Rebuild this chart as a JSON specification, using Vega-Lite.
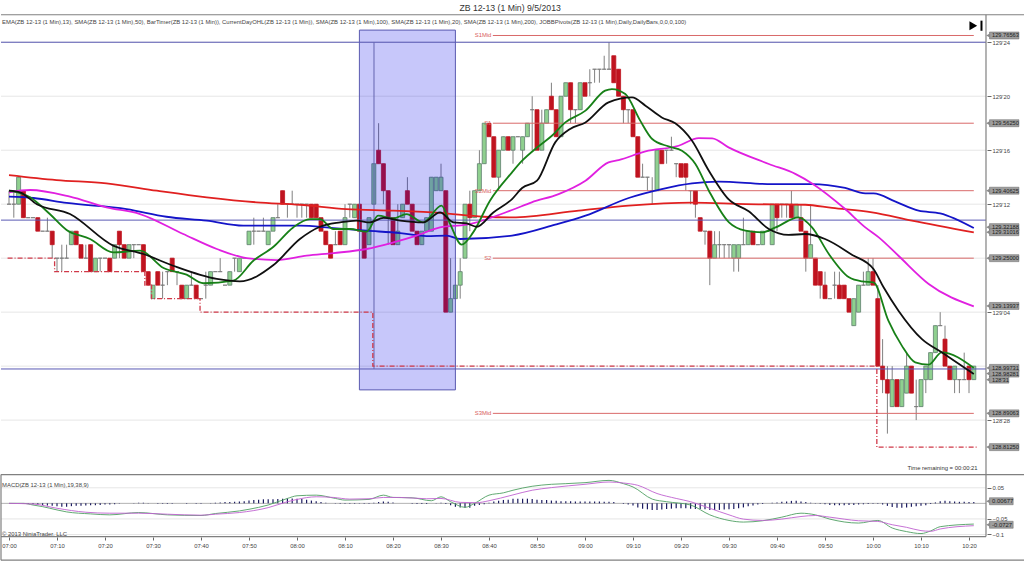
{"$schema":"https://vega.github.io/schema/vega-lite/v6.json","background":"white","padding":{"left":0,"right":0,"top":0,"bottom":0},"autosize":{"type":"none"},"width":1024,"height":562,"config":{"font":"Liberation Sans","view":{"stroke":null},"text":{"font":"Liberation Sans"}},
"datasets":{"bars":[
{"m":0,"o":12,"h":13,"l":12,"c":12,"d":"f","v":0},{"m":1,"o":12,"h":13,"l":11,"c":12,"d":"f","v":0},{"m":2,"o":12,"h":14,"l":12,"c":14,"d":"u","v":0},{"m":3,"o":13,"h":13,"l":11,"c":11,"d":"d","v":-0.001},{"m":4,"o":11,"h":11,"l":11,"c":11,"d":"f","v":-0.002},{"m":5,"o":11,"h":11,"l":11,"c":11,"d":"f","v":-0.003},{"m":6,"o":11,"h":11,"l":10,"c":10,"d":"d","v":-0.004},{"m":7,"o":10,"h":10,"l":10,"c":10,"d":"f","v":-0.005},{"m":8,"o":10,"h":11,"l":10,"c":10,"d":"f","v":-0.007},{"m":9,"o":10,"h":10,"l":8,"c":9,"d":"d","v":-0.008},
{"m":10,"o":8,"h":8,"l":7,"c":8,"d":"f","v":-0.009},{"m":11,"o":8,"h":9,"l":7,"c":8,"d":"f","v":-0.011},{"m":12,"o":8,"h":9,"l":8,"c":8,"d":"f","v":-0.011},{"m":13,"o":9,"h":10,"l":9,"c":10,"d":"u","v":-0.009},{"m":14,"o":10,"h":10,"l":9,"c":9,"d":"d","v":-0.008},{"m":15,"o":9,"h":9,"l":8,"c":8,"d":"d","v":-0.008},{"m":16,"o":8,"h":9,"l":8,"c":8,"d":"f","v":-0.007},{"m":17,"o":9,"h":9,"l":7,"c":7,"d":"d","v":-0.006},{"m":18,"o":7,"h":8,"l":7,"c":8,"d":"u","v":-0.006},{"m":19,"o":8,"h":8,"l":7,"c":8,"d":"f","v":-0.005},
{"m":20,"o":8,"h":8,"l":8,"c":8,"d":"f","v":-0.004},{"m":21,"o":8,"h":8,"l":7,"c":7,"d":"d","v":-0.004},{"m":22,"o":8,"h":9,"l":8,"c":9,"d":"u","v":-0.003},{"m":23,"o":10,"h":10,"l":8,"c":9,"d":"d","v":-0.001},{"m":24,"o":9,"h":9,"l":8,"c":8,"d":"d","v":0},{"m":25,"o":8,"h":9,"l":8,"c":9,"d":"u","v":0},{"m":26,"o":9,"h":9,"l":8,"c":9,"d":"f","v":0.001},{"m":27,"o":9,"h":9,"l":9,"c":9,"d":"f","v":0.002},{"m":28,"o":9,"h":9,"l":7,"c":7,"d":"d","v":0.002},{"m":29,"o":7,"h":7,"l":6,"c":6,"d":"d","v":0.001},
{"m":30,"o":5,"h":6,"l":5,"c":6,"d":"u","v":0},{"m":31,"o":7,"h":7,"l":6,"c":6,"d":"d","v":-0.001},{"m":32,"o":6,"h":7,"l":5,"c":6,"d":"f","v":-0.001},{"m":33,"o":7,"h":7,"l":6,"c":7,"d":"f","v":-0.002},{"m":34,"o":8,"h":8,"l":7,"c":7,"d":"d","v":-0.001},{"m":35,"o":7,"h":7,"l":6,"c":7,"d":"f","v":0},{"m":36,"o":6,"h":6,"l":5,"c":5,"d":"d","v":0},{"m":37,"o":5,"h":6,"l":5,"c":6,"d":"u","v":-0.001},{"m":38,"o":6,"h":7,"l":6,"c":6,"d":"f","v":0},{"m":39,"o":6,"h":6,"l":5,"c":5,"d":"d","v":-0.001},
{"m":40,"o":5,"h":5,"l":5,"c":5,"d":"f","v":-0.001},{"m":41,"o":6,"h":7,"l":5,"c":6,"d":"f","v":0},{"m":42,"o":6,"h":7,"l":6,"c":7,"d":"u","v":0.001},{"m":43,"o":7,"h":7,"l":7,"c":7,"d":"f","v":0.002},{"m":44,"o":7,"h":8,"l":7,"c":7,"d":"f","v":0.003},{"m":45,"o":6,"h":6,"l":6,"c":6,"d":"f","v":0.004},{"m":46,"o":6,"h":7,"l":6,"c":7,"d":"u","v":0.004},{"m":47,"o":8,"h":8,"l":7,"c":8,"d":"f","v":0.005},{"m":48,"o":7,"h":8,"l":7,"c":8,"d":"u","v":0.006},{"m":49,"o":8,"h":8,"l":8,"c":8,"d":"f","v":0.007},
{"m":50,"o":9,"h":10,"l":9,"c":10,"d":"u","v":0.009},{"m":51,"o":10,"h":11,"l":9,"c":10,"d":"f","v":0.011},{"m":52,"o":10,"h":10,"l":10,"c":10,"d":"f","v":0.012},{"m":53,"o":10,"h":11,"l":10,"c":10,"d":"f","v":0.013},{"m":54,"o":9,"h":10,"l":9,"c":10,"d":"u","v":0.013},{"m":55,"o":10,"h":11,"l":10,"c":11,"d":"u","v":0.013},{"m":56,"o":11,"h":12,"l":11,"c":11,"d":"f","v":0.014},{"m":57,"o":13,"h":13,"l":12,"c":12,"d":"d","v":0.015},{"m":58,"o":12,"h":12,"l":11,"c":12,"d":"f","v":0.016},{"m":59,"o":12,"h":13,"l":12,"c":12,"d":"f","v":0.016},
{"m":60,"o":12,"h":12,"l":11,"c":12,"d":"f","v":0.015},{"m":61,"o":12,"h":12,"l":11,"c":12,"d":"f","v":0.014},{"m":62,"o":12,"h":12,"l":11,"c":12,"d":"f","v":0.012},{"m":63,"o":12,"h":12,"l":11,"c":11,"d":"d","v":0.009},{"m":64,"o":12,"h":12,"l":11,"c":11,"d":"d","v":0.007},{"m":65,"o":11,"h":11,"l":10,"c":10,"d":"d","v":0.004},{"m":66,"o":10,"h":10,"l":9,"c":9,"d":"d","v":0.002},{"m":67,"o":9,"h":9,"l":8,"c":8,"d":"d","v":0},{"m":68,"o":9,"h":10,"l":9,"c":9,"d":"f","v":-0.001},{"m":69,"o":10,"h":10,"l":9,"c":9,"d":"d","v":-0.001},
{"m":70,"o":9,"h":12,"l":9,"c":11,"d":"u","v":-0.001},{"m":71,"o":12,"h":12,"l":11,"c":12,"d":"f","v":-0.001},{"m":72,"o":11,"h":12,"l":11,"c":12,"d":"u","v":-0.001},{"m":73,"o":12,"h":12,"l":10,"c":10,"d":"d","v":-0.001},{"m":74,"o":10,"h":10,"l":8,"c":8,"d":"d","v":-0.001},{"m":75,"o":9,"h":11,"l":9,"c":11,"d":"u","v":-0.001},{"m":76,"o":12,"h":15,"l":12,"c":15,"d":"u","v":0.002},{"m":77,"o":16,"h":18,"l":15,"c":15,"d":"d","v":0.004},{"m":78,"o":15,"h":15,"l":12,"c":13,"d":"d","v":0.006},{"m":79,"o":13,"h":13,"l":9,"c":11,"d":"d","v":0.005},
{"m":80,"o":11,"h":11,"l":9,"c":9,"d":"d","v":0.003},{"m":81,"o":9,"h":12,"l":9,"c":10,"d":"u","v":0},{"m":82,"o":11,"h":12,"l":11,"c":12,"d":"u","v":0},{"m":83,"o":13,"h":14,"l":12,"c":12,"d":"d","v":0},{"m":84,"o":12,"h":12,"l":10,"c":10,"d":"d","v":-0.001},{"m":85,"o":10,"h":10,"l":9,"c":9,"d":"d","v":-0.002},{"m":86,"o":9,"h":10,"l":9,"c":10,"d":"u","v":-0.002},{"m":87,"o":10,"h":11,"l":10,"c":11,"d":"u","v":-0.002},{"m":88,"o":10,"h":14,"l":10,"c":14,"d":"u","v":0},{"m":89,"o":13,"h":14,"l":13,"c":14,"d":"u","v":0.001},
{"m":90,"o":13,"h":15,"l":13,"c":14,"d":"u","v":0.002},{"m":91,"o":13,"h":13,"l":4,"c":4,"d":"d","v":-0.002},{"m":92,"o":4,"h":8,"l":4,"c":5,"d":"u","v":-0.006},{"m":93,"o":5,"h":6,"l":5,"c":6,"d":"u","v":-0.011},{"m":94,"o":6,"h":8,"l":5,"c":7,"d":"u","v":-0.013},{"m":95,"o":8,"h":12,"l":8,"c":12,"d":"u","v":-0.014},{"m":96,"o":12,"h":13,"l":10,"c":11,"d":"d","v":-0.014},{"m":97,"o":11,"h":13,"l":11,"c":13,"d":"u","v":-0.008},{"m":98,"o":13,"h":16,"l":13,"c":15,"d":"u","v":-0.005},{"m":99,"o":15,"h":18,"l":15,"c":18,"d":"u","v":-0.003},
{"m":100,"o":18,"h":18,"l":17,"c":17,"d":"d","v":0.002},{"m":101,"o":17,"h":17,"l":14,"c":14,"d":"d","v":0.006},{"m":102,"o":14,"h":16,"l":13,"c":16,"d":"u","v":0.008},{"m":103,"o":16,"h":17,"l":16,"c":17,"d":"u","v":0.011},{"m":104,"o":17,"h":17,"l":16,"c":16,"d":"d","v":0.012},{"m":105,"o":16,"h":17,"l":15,"c":17,"d":"u","v":0.015},{"m":106,"o":17,"h":17,"l":17,"c":17,"d":"f","v":0.015},{"m":107,"o":16,"h":17,"l":15,"c":17,"d":"u","v":0.015},{"m":108,"o":17,"h":18,"l":17,"c":18,"d":"u","v":0.015},{"m":109,"o":19,"h":20,"l":16,"c":19,"d":"f","v":0.014},
{"m":110,"o":19,"h":19,"l":16,"c":16,"d":"d","v":0.012},{"m":111,"o":16,"h":19,"l":16,"c":18,"d":"u","v":0.011},{"m":112,"o":18,"h":19,"l":18,"c":19,"d":"u","v":0.011},{"m":113,"o":20,"h":21,"l":19,"c":19,"d":"d","v":0.009},{"m":114,"o":19,"h":19,"l":17,"c":17,"d":"d","v":0.008},{"m":115,"o":17,"h":20,"l":17,"c":20,"d":"u","v":0.007},{"m":116,"o":20,"h":21,"l":20,"c":21,"d":"u","v":0.007},{"m":117,"o":21,"h":21,"l":18,"c":19,"d":"d","v":0.007},{"m":118,"o":19,"h":19,"l":18,"c":19,"d":"f","v":0.006},{"m":119,"o":19,"h":21,"l":19,"c":21,"d":"u","v":0.006},
{"m":120,"o":21,"h":21,"l":20,"c":20,"d":"d","v":0.006},{"m":121,"o":21,"h":22,"l":20,"c":21,"d":"f","v":0.006},{"m":122,"o":22,"h":22,"l":21,"c":22,"d":"f","v":0.006},{"m":123,"o":22,"h":22,"l":21,"c":22,"d":"f","v":0.006},{"m":124,"o":22,"h":23,"l":22,"c":22,"d":"f","v":0.005},{"m":125,"o":22,"h":24,"l":22,"c":22,"d":"f","v":0.005},{"m":126,"o":23,"h":23,"l":21,"c":21,"d":"d","v":0.004},{"m":127,"o":22,"h":22,"l":20,"c":20,"d":"d","v":0},{"m":128,"o":20,"h":20,"l":18,"c":19,"d":"d","v":-0.002},{"m":129,"o":19,"h":19,"l":18,"c":19,"d":"f","v":-0.004},
{"m":130,"o":19,"h":19,"l":17,"c":17,"d":"d","v":-0.007},{"m":131,"o":17,"h":17,"l":14,"c":14,"d":"d","v":-0.013},{"m":132,"o":14,"h":15,"l":14,"c":14,"d":"f","v":-0.017},{"m":133,"o":14,"h":14,"l":13,"c":14,"d":"f","v":-0.019},{"m":134,"o":13,"h":14,"l":12,"c":13,"d":"f","v":-0.021},{"m":135,"o":13,"h":16,"l":13,"c":16,"d":"u","v":-0.021},{"m":136,"o":16,"h":16,"l":15,"c":15,"d":"d","v":-0.02},{"m":137,"o":16,"h":16,"l":15,"c":16,"d":"f","v":-0.018},{"m":138,"o":16,"h":17,"l":16,"c":16,"d":"f","v":-0.017},{"m":139,"o":15,"h":15,"l":14,"c":15,"d":"f","v":-0.016},
{"m":140,"o":15,"h":15,"l":14,"c":14,"d":"d","v":-0.016},{"m":141,"o":15,"h":15,"l":13,"c":14,"d":"d","v":-0.016},{"m":142,"o":13,"h":13,"l":12,"c":13,"d":"f","v":-0.017},{"m":143,"o":13,"h":13,"l":11,"c":12,"d":"d","v":-0.018},{"m":144,"o":11,"h":11,"l":10,"c":10,"d":"d","v":-0.018},{"m":145,"o":10,"h":10,"l":9,"c":10,"d":"f","v":-0.019},{"m":146,"o":10,"h":10,"l":6,"c":8,"d":"d","v":-0.021},{"m":147,"o":8,"h":10,"l":8,"c":9,"d":"u","v":-0.021},{"m":148,"o":9,"h":10,"l":8,"c":9,"d":"f","v":-0.021},{"m":149,"o":9,"h":9,"l":8,"c":9,"d":"f","v":-0.02},
{"m":150,"o":9,"h":9,"l":8,"c":9,"d":"f","v":-0.019},{"m":151,"o":8,"h":9,"l":7,"c":9,"d":"u","v":-0.018},{"m":152,"o":8,"h":9,"l":7,"c":9,"d":"u","v":-0.016},{"m":153,"o":9,"h":11,"l":9,"c":9,"d":"f","v":-0.013},{"m":154,"o":9,"h":10,"l":9,"c":10,"d":"u","v":-0.009},{"m":155,"o":10,"h":10,"l":9,"c":9,"d":"d","v":-0.007},{"m":156,"o":9,"h":9,"l":9,"c":9,"d":"f","v":-0.004},{"m":157,"o":9,"h":10,"l":9,"c":10,"d":"u","v":-0.002},{"m":158,"o":10,"h":10,"l":10,"c":10,"d":"f","v":0},{"m":159,"o":9,"h":12,"l":9,"c":12,"d":"u","v":0.002},
{"m":160,"o":12,"h":12,"l":10,"c":11,"d":"d","v":0.003},{"m":161,"o":12,"h":12,"l":11,"c":12,"d":"f","v":0.005},{"m":162,"o":12,"h":12,"l":11,"c":12,"d":"f","v":0.006},{"m":163,"o":12,"h":13,"l":11,"c":11,"d":"d","v":0.008},{"m":164,"o":11,"h":12,"l":11,"c":12,"d":"u","v":0.008},{"m":165,"o":11,"h":12,"l":10,"c":10,"d":"d","v":0.006},{"m":166,"o":10,"h":10,"l":7,"c":8,"d":"d","v":0.004},{"m":167,"o":8,"h":12,"l":8,"c":9,"d":"u","v":0.002},{"m":168,"o":8,"h":8,"l":6,"c":6,"d":"d","v":0.001},{"m":169,"o":7,"h":7,"l":5,"c":6,"d":"d","v":-0.001},
{"m":170,"o":6,"h":7,"l":5,"c":5,"d":"d","v":-0.003},{"m":171,"o":5,"h":5,"l":5,"c":5,"d":"f","v":-0.005},{"m":172,"o":6,"h":7,"l":5,"c":6,"d":"f","v":-0.006},{"m":173,"o":6,"h":7,"l":5,"c":5,"d":"d","v":-0.006},{"m":174,"o":6,"h":6,"l":5,"c":5,"d":"d","v":-0.006},{"m":175,"o":5,"h":5,"l":4,"c":4,"d":"d","v":-0.005},{"m":176,"o":3,"h":5,"l":3,"c":5,"d":"u","v":-0.005},{"m":177,"o":4,"h":6,"l":4,"c":6,"d":"u","v":-0.004},{"m":178,"o":6,"h":7,"l":6,"c":6,"d":"f","v":-0.003},{"m":179,"o":6,"h":8,"l":6,"c":7,"d":"u","v":-0.002},
{"m":180,"o":7,"h":8,"l":6,"c":6,"d":"d","v":-0.001},{"m":181,"o":5,"h":6,"l":0,"c":0,"d":"d","v":-0.001},{"m":182,"o":0,"h":2,"l":-2,"c":-1,"d":"d","v":-0.004},{"m":183,"o":-1,"h":0,"l":-5,"c":-2,"d":"d","v":-0.008},{"m":184,"o":-3,"h":0,"l":-3,"c":-1,"d":"u","v":-0.012},{"m":185,"o":-1,"h":-1,"l":-3,"c":-3,"d":"d","v":-0.014},{"m":186,"o":-3,"h":-1,"l":-3,"c":-1,"d":"u","v":-0.014},{"m":187,"o":-2,"h":1,"l":-2,"c":0,"d":"u","v":-0.013},{"m":188,"o":0,"h":0,"l":-2,"c":-2,"d":"d","v":-0.011},{"m":189,"o":-3,"h":-1,"l":-4,"c":-3,"d":"f","v":-0.009},
{"m":190,"o":-3,"h":-1,"l":-3,"c":-1,"d":"u","v":-0.008},{"m":191,"o":-1,"h":0,"l":-2,"c":0,"d":"u","v":-0.006},{"m":192,"o":-1,"h":1,"l":-1,"c":1,"d":"u","v":-0.002},{"m":193,"o":1,"h":3,"l":1,"c":3,"d":"u","v":0.003},{"m":194,"o":3,"h":4,"l":3,"c":3,"d":"f","v":0.007},{"m":195,"o":2,"h":3,"l":0,"c":0,"d":"d","v":0.008},{"m":196,"o":0,"h":0,"l":-1,"c":-1,"d":"d","v":0.007},{"m":197,"o":-1,"h":0,"l":-2,"c":0,"d":"u","v":0.006},{"m":198,"o":-1,"h":-1,"l":-2,"c":-1,"d":"f","v":0.005},{"m":199,"o":-1,"h":1,"l":-1,"c":-1,"d":"f","v":0.005},
{"m":200,"o":0,"h":0,"l":-2,"c":-1,"d":"d","v":0.004},{"m":201,"o":-1,"h":0,"l":-1,"c":0,"d":"u","v":0.004}
],
"grid":[{"m":0},{"m":10},{"m":20},{"m":30},{"m":40},{"m":50},{"m":60},{"m":70},{"m":80},{"m":90},{"m":100},{"m":110},{"m":120},{"m":130},{"m":140},{"m":150},{"m":160},{"m":170},{"m":180},{"m":190},{"m":200}],
"lines":[
{"s":"SMA200","m":0,"L":14.16},{"s":"SMA200","m":9.9,"L":13.79},{"s":"SMA200","m":20.3,"L":13.54},{"s":"SMA200","m":30.8,"L":13},{"s":"SMA200","m":41.2,"L":12.51},{"s":"SMA200","m":51.6,"L":12.14},{"s":"SMA200","m":60.6,"L":11.96},{"s":"SMA200","m":70.3,"L":11.64},{"s":"SMA200","m":80.1,"L":11.52},{"s":"SMA200","m":89.8,"L":11.35},{"s":"SMA200","m":98.8,"L":11.07},{"s":"SMA200","m":104.8,"L":11.02},{"s":"SMA200","m":118.7,"L":11.52},{"s":"SMA200","m":129.1,"L":11.89},{"s":"SMA200","m":142.3,"L":12.11},{"s":"SMA200","m":153.4,"L":12.01},{"s":"SMA200","m":165.9,"L":11.96},{"s":"SMA200","m":171.5,"L":11.72},{"s":"SMA200","m":179.8,"L":11.39},{"s":"SMA200","m":188.1,"L":10.78},{"s":"SMA200","m":201,"L":9.91},
{"s":"SMA100","m":0,"L":12.56},{"s":"SMA100","m":5.1,"L":12.46},{"s":"SMA100","m":12,"L":12.09},{"s":"SMA100","m":24.5,"L":11.64},{"s":"SMA100","m":32.8,"L":11.07},{"s":"SMA100","m":41.2,"L":10.78},{"s":"SMA100","m":48.8,"L":10.41},{"s":"SMA100","m":60.6,"L":10.41},{"s":"SMA100","m":67.6,"L":10.23},{"s":"SMA100","m":74.5,"L":10.04},{"s":"SMA100","m":81.5,"L":9.86},{"s":"SMA100","m":87,"L":9.64},{"s":"SMA100","m":91.2,"L":9.67},{"s":"SMA100","m":94,"L":9.42},{"s":"SMA100","m":104.8,"L":9.67},{"s":"SMA100","m":113.8,"L":10.48},{"s":"SMA100","m":120.1,"L":11.15},{"s":"SMA100","m":129.1,"L":12.46},{"s":"SMA100","m":136,"L":13.12},{"s":"SMA100","m":142.3,"L":13.54},{"s":"SMA100","m":147.8,"L":13.67},{"s":"SMA100","m":158.9,"L":13.49},{"s":"SMA100","m":167.3,"L":13.49},{"s":"SMA100","m":174.2,"L":13.2},{"s":"SMA100","m":178.4,"L":12.8},{"s":"SMA100","m":180.1,"L":12.8},{"s":"SMA100","m":184.7,"L":12.19},{"s":"SMA100","m":189.5,"L":11.52},{"s":"SMA100","m":194,"L":11.32},{"s":"SMA100","m":201,"L":10.23},
{"s":"SMA50","m":0,"L":12.88},{"s":"SMA50","m":4.4,"L":13.05},{"s":"SMA50","m":12.7,"L":12.56},{"s":"SMA50","m":20.3,"L":11.77},{"s":"SMA50","m":27.3,"L":11.27},{"s":"SMA50","m":36.3,"L":9.79},{"s":"SMA50","m":43.3,"L":8.68},{"s":"SMA50","m":49.5,"L":8.01},{"s":"SMA50","m":55.8,"L":7.86},{"s":"SMA50","m":62,"L":8.19},{"s":"SMA50","m":67.6,"L":8.38},{"s":"SMA50","m":74.5,"L":8.68},{"s":"SMA50","m":80.1,"L":9.17},{"s":"SMA50","m":84.9,"L":9.67},{"s":"SMA50","m":89.8,"L":10.28},{"s":"SMA50","m":95.3,"L":10.48},{"s":"SMA50","m":104.8,"L":11.57},{"s":"SMA50","m":108.9,"L":12.14},{"s":"SMA50","m":114.5,"L":12.75},{"s":"SMA50","m":120.1,"L":13.74},{"s":"SMA50","m":124.9,"L":15.1},{"s":"SMA50","m":127,"L":15.27},{"s":"SMA50","m":132.6,"L":15.91},{"s":"SMA50","m":139.5,"L":16.33},{"s":"SMA50","m":143.7,"L":16.9},{"s":"SMA50","m":146.5,"L":16.88},{"s":"SMA50","m":149.9,"L":16.21},{"s":"SMA50","m":158.3,"L":14.98},{"s":"SMA50","m":163.9,"L":14.23},{"s":"SMA50","m":167.3,"L":13.54},{"s":"SMA50","m":174.2,"L":11.64},{"s":"SMA50","m":178.4,"L":10.28},{"s":"SMA50","m":181.2,"L":9.54},{"s":"SMA50","m":185.3,"L":8.18},{"s":"SMA50","m":191.6,"L":6.09},{"s":"SMA50","m":201,"L":4.43},
{"s":"EMA13","m":0,"L":13},{"s":"EMA13","m":4.4,"L":12.51},{"s":"EMA13","m":8.5,"L":11.27},{"s":"EMA13","m":12,"L":10.09},{"s":"EMA13","m":16.9,"L":9.42},{"s":"EMA13","m":21.7,"L":8.43},{"s":"EMA13","m":27.3,"L":8.56},{"s":"EMA13","m":32.2,"L":7.27},{"s":"EMA13","m":37,"L":6.78},{"s":"EMA13","m":40.5,"L":6.14},{"s":"EMA13","m":46.7,"L":6.33},{"s":"EMA13","m":50.9,"L":7.81},{"s":"EMA13","m":55.1,"L":8.85},{"s":"EMA13","m":59.2,"L":10.28},{"s":"EMA13","m":62.7,"L":10.9},{"s":"EMA13","m":64.8,"L":10.9},{"s":"EMA13","m":67.6,"L":10.16},{"s":"EMA13","m":71,"L":10.16},{"s":"EMA13","m":74.5,"L":9.96},{"s":"EMA13","m":76.9,"L":11.15},{"s":"EMA13","m":80.1,"L":10.95},{"s":"EMA13","m":82.8,"L":11.27},{"s":"EMA13","m":86.3,"L":10.65},{"s":"EMA13","m":90.1,"L":11.89},{"s":"EMA13","m":91.9,"L":10.53},{"s":"EMA13","m":94.3,"L":9},{"s":"EMA13","m":96.7,"L":9.91},{"s":"EMA13","m":100.2,"L":12.26},{"s":"EMA13","m":104.8,"L":14.36},{"s":"EMA13","m":106.9,"L":15.22},{"s":"EMA13","m":110,"L":16.2},{"s":"EMA13","m":113.1,"L":17.07},{"s":"EMA13","m":115.9,"L":18.06},{"s":"EMA13","m":120.1,"L":18.93},{"s":"EMA13","m":124.2,"L":20.41},{"s":"EMA13","m":125.6,"L":20.53},{"s":"EMA13","m":128.4,"L":20.16},{"s":"EMA13","m":131.5,"L":18.19},{"s":"EMA13","m":134,"L":16.83},{"s":"EMA13","m":137.4,"L":16.28},{"s":"EMA13","m":140.2,"L":15.96},{"s":"EMA13","m":143,"L":14.98},{"s":"EMA13","m":145.8,"L":13},{"s":"EMA13","m":150,"L":10.65},{"s":"EMA13","m":153.4,"L":10.04},{"s":"EMA13","m":156.9,"L":9.91},{"s":"EMA13","m":159.7,"L":10.28},{"s":"EMA13","m":164.5,"L":11.02},{"s":"EMA13","m":167.3,"L":10.28},{"s":"EMA13","m":170.8,"L":8.31},{"s":"EMA13","m":175,"L":6.58},{"s":"EMA13","m":177.7,"L":6.28},{"s":"EMA13","m":180.1,"L":6.21},{"s":"EMA13","m":183.2,"L":3.37},{"s":"EMA13","m":186,"L":1.52},{"s":"EMA13","m":188.8,"L":0.28},{"s":"EMA13","m":191.6,"L":0.11},{"s":"EMA13","m":194.3,"L":1.02},{"s":"EMA13","m":201,"L":-0.13},
{"s":"SMA20","m":0,"L":13},{"s":"SMA20","m":2.3,"L":12.88},{"s":"SMA20","m":5.8,"L":12},{"s":"SMA20","m":12.7,"L":11.27},{"s":"SMA20","m":21.7,"L":8.93},{"s":"SMA20","m":28,"L":8.31},{"s":"SMA20","m":34.2,"L":7.44},{"s":"SMA20","m":43.3,"L":6.46},{"s":"SMA20","m":48.1,"L":6.28},{"s":"SMA20","m":55.1,"L":7.49},{"s":"SMA20","m":60.6,"L":9.42},{"s":"SMA20","m":64.8,"L":10.33},{"s":"SMA20","m":69,"L":10.65},{"s":"SMA20","m":72.4,"L":10.78},{"s":"SMA20","m":75.2,"L":10.65},{"s":"SMA20","m":78,"L":10.98},{"s":"SMA20","m":81.5,"L":10.78},{"s":"SMA20","m":86.3,"L":10.65},{"s":"SMA20","m":89.8,"L":11.39},{"s":"SMA20","m":92.6,"L":10.65},{"s":"SMA20","m":95.3,"L":10.58},{"s":"SMA20","m":97.4,"L":10.33},{"s":"SMA20","m":100.9,"L":11.39},{"s":"SMA20","m":104.8,"L":12.38},{"s":"SMA20","m":106.9,"L":13.2},{"s":"SMA20","m":110,"L":13.74},{"s":"SMA20","m":113.8,"L":16.58},{"s":"SMA20","m":116.9,"L":17.57},{"s":"SMA20","m":120.1,"L":18.06},{"s":"SMA20","m":124.9,"L":19.54},{"s":"SMA20","m":129.8,"L":19.91},{"s":"SMA20","m":132.6,"L":19.3},{"s":"SMA20","m":136,"L":18.43},{"s":"SMA20","m":138.8,"L":17.99},{"s":"SMA20","m":142.3,"L":16.7},{"s":"SMA20","m":145.8,"L":14.48},{"s":"SMA20","m":150,"L":12.33},{"s":"SMA20","m":154.1,"L":11.47},{"s":"SMA20","m":158.3,"L":10.16},{"s":"SMA20","m":162.4,"L":9.72},{"s":"SMA20","m":165.9,"L":9.79},{"s":"SMA20","m":170,"L":9.42},{"s":"SMA20","m":175.6,"L":8.26},{"s":"SMA20","m":180.1,"L":7.2},{"s":"SMA20","m":182.2,"L":5.84},{"s":"SMA20","m":185.3,"L":4.11},{"s":"SMA20","m":190.2,"L":2},{"s":"SMA20","m":194.3,"L":1.02},{"s":"SMA20","m":201,"L":-0.58}
],
"macd":[
{"s":"MACD","m":0,"v":0},{"s":"MACD","m":3,"v":0},{"s":"MACD","m":5,"v":-0.0053},{"s":"MACD","m":7,"v":-0.0105},{"s":"MACD","m":10,"v":-0.0211},{"s":"MACD","m":12,"v":-0.0274},{"s":"MACD","m":17,"v":-0.0338},{"s":"MACD","m":21,"v":-0.0369},{"s":"MACD","m":27,"v":-0.0295},{"s":"MACD","m":33,"v":-0.0369},{"s":"MACD","m":40,"v":-0.039},{"s":"MACD","m":43,"v":-0.0327},{"s":"MACD","m":48,"v":-0.0243},{"s":"MACD","m":50,"v":-0.019},{"s":"MACD","m":54,"v":-0.0053},{"s":"MACD","m":58,"v":0.0158},{"s":"MACD","m":60,"v":0.0243},{"s":"MACD","m":64,"v":0.0264},{"s":"MACD","m":68,"v":0.0158},{"s":"MACD","m":70,"v":0.0105},{"s":"MACD","m":75,"v":0.0127},{"s":"MACD","m":78,"v":0.0264},{"s":"MACD","m":80,"v":0.019},{"s":"MACD","m":84,"v":0.0179},{"s":"MACD","m":88,"v":0.0084},{"s":"MACD","m":90,"v":0.0211},{"s":"MACD","m":92,"v":0.0053},{"s":"MACD","m":95,"v":-0.0127},{"s":"MACD","m":97,"v":0},{"s":"MACD","m":100,"v":0.0264},{"s":"MACD","m":103,"v":0.0338},{"s":"MACD","m":105,"v":0.0422},{"s":"MACD","m":109,"v":0.0549},{"s":"MACD","m":113,"v":0.0612},{"s":"MACD","m":116,"v":0.0633},{"s":"MACD","m":120,"v":0.0665},{"s":"MACD","m":125,"v":0.0738},{"s":"MACD","m":128,"v":0.0633},{"s":"MACD","m":130,"v":0.0527},{"s":"MACD","m":134,"v":0.0137},{"s":"MACD","m":137,"v":0.0053},{"s":"MACD","m":142,"v":-0.0053},{"s":"MACD","m":146,"v":-0.0369},{"s":"MACD","m":150,"v":-0.0549},{"s":"MACD","m":153,"v":-0.0601},{"s":"MACD","m":157,"v":-0.0559},{"s":"MACD","m":161,"v":-0.0443},{"s":"MACD","m":165,"v":-0.0316},{"s":"MACD","m":168,"v":-0.0369},{"s":"MACD","m":171,"v":-0.0506},{"s":"MACD","m":177,"v":-0.0633},{"s":"MACD","m":181,"v":-0.0549},{"s":"MACD","m":184,"v":-0.0791},{"s":"MACD","m":187,"v":-0.0907},{"s":"MACD","m":190,"v":-0.097},{"s":"MACD","m":192,"v":-0.0886},{"s":"MACD","m":194,"v":-0.0749},{"s":"MACD","m":201,"v":-0.0665},
{"s":"Signal","m":0,"v":0},{"s":"Signal","m":5,"v":-0.0021},{"s":"Signal","m":10,"v":-0.0158},{"s":"Signal","m":16,"v":-0.0285},{"s":"Signal","m":21,"v":-0.0316},{"s":"Signal","m":27,"v":-0.0316},{"s":"Signal","m":33,"v":-0.0348},{"s":"Signal","m":40,"v":-0.038},{"s":"Signal","m":43,"v":-0.0348},{"s":"Signal","m":48,"v":-0.0295},{"s":"Signal","m":54,"v":-0.0137},{"s":"Signal","m":58,"v":0.0053},{"s":"Signal","m":60,"v":0.0127},{"s":"Signal","m":64,"v":0.0211},{"s":"Signal","m":67.6,"v":0.019},{"s":"Signal","m":71,"v":0.0137},{"s":"Signal","m":75,"v":0.0148},{"s":"Signal","m":78,"v":0.019},{"s":"Signal","m":81.5,"v":0.019},{"s":"Signal","m":87,"v":0.0148},{"s":"Signal","m":90,"v":0.0158},{"s":"Signal","m":94,"v":0.0032},{"s":"Signal","m":97.4,"v":0.0021},{"s":"Signal","m":100,"v":0.0084},{"s":"Signal","m":104.8,"v":0.0264},{"s":"Signal","m":109,"v":0.0422},{"s":"Signal","m":113,"v":0.0506},{"s":"Signal","m":120,"v":0.0612},{"s":"Signal","m":125,"v":0.0686},{"s":"Signal","m":128,"v":0.0654},{"s":"Signal","m":131,"v":0.058},{"s":"Signal","m":135,"v":0.0316},{"s":"Signal","m":139,"v":0.0158},{"s":"Signal","m":142,"v":0.0053},{"s":"Signal","m":146,"v":-0.0158},{"s":"Signal","m":150,"v":-0.0369},{"s":"Signal","m":153,"v":-0.0506},{"s":"Signal","m":157,"v":-0.0549},{"s":"Signal","m":161,"v":-0.0506},{"s":"Signal","m":165,"v":-0.0422},{"s":"Signal","m":168,"v":-0.039},{"s":"Signal","m":171,"v":-0.0443},{"s":"Signal","m":177,"v":-0.0559},{"s":"Signal","m":181,"v":-0.058},{"s":"Signal","m":184,"v":-0.0686},{"s":"Signal","m":187,"v":-0.077},{"s":"Signal","m":190,"v":-0.0876},{"s":"Signal","m":192,"v":-0.0897},{"s":"Signal","m":194,"v":-0.0823},{"s":"Signal","m":201,"v":-0.0717}
]},
"encoding":{"x":{"field":"m","type":"quantitative","scale":{"domain":[-1.875,211.458],"range":[-5,1029],"nice":false,"zero":false},"axis":{"orient":"bottom","offset":-25,"values":[0,10,20,30,40,50,60,70,80,90,100,110,120,130,140,150,160,170,180,190,200],"title":null,"domain":false,"grid":false,"tickSize":3,"tickColor":"#666666","labelFontSize":5.9,"labelColor":"#444444","labelPadding":2,"labelFlush":false,"labelOverlap":false,"labelFont":"Liberation Sans","labelExpr":"(floor(datum.value/60)+7<10?'0':'')+(floor(datum.value/60)+7)+':'+(datum.value%60<10?'0':'')+(datum.value%60)"}}},
"resolve":{"scale":{"y":"independent"},"axis":{"y":"independent"}},
"layer":[
{"encoding":{"y":{"field":"L","type":"quantitative","scale":{"domain":[-8.037,26.037],"range":[479.6,9.75],"nice":false,"zero":false},"axis":{"orient":"right","offset":-37,"values":[24,20,16,12,4,-4],"title":null,"domain":false,"grid":false,"tickSize":4,"tickColor":"#666666","labelFontSize":5.9,"labelColor":"#444444","labelPadding":1,"labelFont":"Liberation Sans","labelExpr":"datum.value>=0 ? \"129'\"+(datum.value<10?'0':'')+datum.value : \"128'\"+(32+datum.value)"}}},
"layer":[
{"data":{"name":"grid"},"mark":{"type":"rule","color":"#e6e6e6","strokeWidth":1},"encoding":{"y":{"datum":26.037,"type":"quantitative","axis":{"orient":"right","offset":-37,"values":[24,20,16,12,4,-4],"title":null,"domain":false,"grid":false,"tickSize":4,"tickColor":"#666666","labelFontSize":5.9,"labelColor":"#444444","labelPadding":1,"labelFont":"Liberation Sans","labelExpr":"datum.value>=0 ? \"129'\"+(datum.value<10?'0':'')+datum.value : \"128'\"+(32+datum.value)"}},"y2":{"datum":-8.037}}},
{"data":{"values":[{"m":-1.667,"m2":203.54,"L":24},{"m":-1.667,"m2":203.54,"L":20},{"m":-1.667,"m2":203.54,"L":16},{"m":-1.667,"m2":203.54,"L":12},{"m":-1.667,"m2":203.54,"L":8},{"m":-1.667,"m2":203.54,"L":4},{"m":-1.667,"m2":203.54,"L":0},{"m":-1.667,"m2":203.54,"L":-4}]},"mark":{"type":"rule","color":"#e6e6e6","strokeWidth":1},"encoding":{"x2":{"field":"m2"}}},
{"data":{"name":"bars"},"mark":{"type":"rule","color":"#808080","strokeWidth":1},"encoding":{"y":{"field":"h","type":"quantitative","axis":{"orient":"right","offset":-37,"values":[24,20,16,12,4,-4],"title":null,"domain":false,"grid":false,"tickSize":4,"tickColor":"#666666","labelFontSize":5.9,"labelColor":"#444444","labelPadding":1,"labelFont":"Liberation Sans","labelExpr":"datum.value>=0 ? \"129'\"+(datum.value<10?'0':'')+datum.value : \"128'\"+(32+datum.value)"}},"y2":{"field":"l"}}},
{"data":{"name":"bars"},"mark":{"type":"bar","size":4,"orient":"vertical","strokeWidth":0.8},"encoding":{"y":{"field":"o","type":"quantitative","axis":{"orient":"right","offset":-37,"values":[24,20,16,12,4,-4],"title":null,"domain":false,"grid":false,"tickSize":4,"tickColor":"#666666","labelFontSize":5.9,"labelColor":"#444444","labelPadding":1,"labelFont":"Liberation Sans","labelExpr":"datum.value>=0 ? \"129'\"+(datum.value<10?'0':'')+datum.value : \"128'\"+(32+datum.value)"}},"y2":{"field":"c"},"fill":{"field":"d","type":"nominal","scale":{"domain":["u","d","f"],"range":["#8fd08f","#c01420","#777777"]},"legend":null},"stroke":{"field":"d","type":"nominal","scale":{"domain":["u","d","f"],"range":["#5f7f6f","#c01420","#777777"]},"legend":null}}},
{"data":{"values":[{"m":73,"m2":93,"L":24.9,"L2":-1.76}]},"mark":{"type":"rect","fill":"#0000e8","fillOpacity":0.22,"stroke":"#5a5ab0","strokeWidth":1},"encoding":{"x2":{"field":"m2"},"y2":{"field":"L2"}}},
{"data":{"values":[{"m":-1.667,"m2":203.54,"L":24},{"m":-1.667,"m2":203.54,"L":10.82},{"m":-1.667,"m2":203.54,"L":-0.21}]},"mark":{"type":"rule","color":"#5a5ab4","strokeWidth":1},"encoding":{"x2":{"field":"m2"}}},
{"data":{"values":[{"m":76.04,"L":24,"L2":-0.21}]},"mark":{"type":"rule","color":"#6464b0","strokeWidth":1},"encoding":{"y2":{"field":"L2"}}},
{"data":{"values":[{"m":100.8,"m2":201,"L":24.5},{"m":100.8,"m2":201,"L":18},{"m":100.8,"m2":201,"L":13},{"m":100.8,"m2":201,"L":8},{"m":100.8,"m2":201,"L":-3.5}]},"mark":{"type":"rule","color":"#d96a6a","strokeWidth":1},"encoding":{"x2":{"field":"m2"}}},
{"data":{"values":[{"m":-0.3,"L":8},{"m":9.5,"L":7},{"m":28.3,"L":6},{"m":29.7,"L":5},{"m":39.8,"L":4},{"m":75.8,"L":0},{"m":180.8,"L":-6},{"m":201.7,"L":-6}]},"mark":{"type":"line","interpolate":"step-after","color":"#d03848","strokeWidth":1.3,"strokeDash":[5,2,1,2]}},
{"data":{"name":"lines"},"mark":{"type":"line","strokeWidth":1.8,"interpolate":"monotone"},"encoding":{"color":{"field":"s","type":"nominal","scale":{"domain":["SMA200","SMA100","SMA50","EMA13","SMA20","MACD","Signal"],"range":["#e02020","#1414c8","#e020e0","#178017","#101010","#4f9f62","#bf62d0"]},"legend":null},"order":{"field":"m","type":"quantitative"}}},
{"data":{"values":[{"m":-1.45,"L":25.52,"t":"EMA(ZB 12-13 (1 Min),13), SMA(ZB 12-13 (1 Min),50), BarTimer(ZB 12-13 (1 Min)), CurrentDayOHL(ZB 12-13 (1 Min)), SMA(ZB 12-13 (1 Min),100), SMA(ZB 12-13 (1 Min),20), SMA(ZB 12-13 (1 Min),200), JOBBPivots(ZB 12-13 (1 Min),Daily,DailyBars,0,0,0,100)"}]},"mark":{"type":"text","align":"left","baseline":"middle","fontSize":5.9,"color":"#444444"},"encoding":{"text":{"field":"t"}}},
{"data":{"values":[{"m":104.4,"L":26.56,"t":"ZB 12-13 (1 Min)  9/5/2013"}]},"mark":{"type":"text","align":"center","baseline":"middle","fontSize":8.7,"color":"#333333"},"encoding":{"text":{"field":"t"}}},
{"data":{"values":[{"m":201.8,"L":-7.52,"t":"Time remaining = 00:00:21"}]},"mark":{"type":"text","align":"right","baseline":"middle","fontSize":5.9,"color":"#333333"},"encoding":{"text":{"field":"t"}}},
{"data":{"values":[{"m":100.5,"L":24.5,"t":"S1Mid"},{"m":100.5,"L":18,"t":"S1"},{"m":100.5,"L":13,"t":"S2Mid"},{"m":100.5,"L":8,"t":"S2"},{"m":100.5,"L":-3.5,"t":"S3Mid"}]},"mark":{"type":"text","align":"right","baseline":"middle","fontSize":5.9,"color":"#d86060"},"encoding":{"text":{"field":"t"}}},
{"data":{"values":[{"m":200.9,"L":25.22}]},"mark":{"type":"point","shape":"triangle-right","size":80,"filled":true,"color":"#000000","opacity":1}},
{"data":{"values":[{"m":202.6,"L":25.6,"L2":24.85}]},"mark":{"type":"rule","color":"#000000","strokeWidth":2},"encoding":{"y2":{"field":"L2"}}},
{"data":{"values":[{"m":-1.667,"m2":211.5,"L":26.037},{"m":-1.667,"m2":211.5,"L":-8.037}]},"mark":{"type":"rule","color":"#808080","strokeWidth":1.2},"encoding":{"x2":{"field":"m2"}}},
{"data":{"values":[{"m":203.54,"L":26.037,"L2":-8.037}]},"mark":{"type":"rule","color":"#808080","strokeWidth":1.2},"encoding":{"y2":{"field":"L2"}}},
{"data":{"values":[{"m":204.27,"m2":210.4,"L":24.5},{"m":204.27,"m2":210.4,"L":18},{"m":204.27,"m2":210.4,"L":13},{"m":204.27,"m2":210.4,"L":10.3},{"m":204.27,"m2":210.4,"L":9.925},{"m":204.27,"m2":210.4,"L":8},{"m":204.27,"m2":210.4,"L":4.46},{"m":204.27,"m2":210.4,"L":-0.13},{"m":204.27,"m2":210.4,"L":-0.55},{"m":204.27,"m2":208.3,"L":-1},{"m":204.27,"m2":210.4,"L":-3.5},{"m":204.27,"m2":210.4,"L":-6}]},"mark":{"type":"bar","orient":"horizontal","size":7,"fill":"#9e9e9e","stroke":"#666666","strokeWidth":0.5},"encoding":{"x2":{"field":"m2"}}},
{"data":{"values":[{"m":204,"L":24.5},{"m":204,"L":18},{"m":204,"L":13},{"m":204,"L":10.3},{"m":204,"L":9.925},{"m":204,"L":8},{"m":204,"L":4.46},{"m":204,"L":-0.13},{"m":204,"L":-0.55},{"m":204,"L":-1},{"m":204,"L":-3.5},{"m":204,"L":-6}]},"mark":{"type":"point","shape":"triangle-left","size":22,"filled":true,"color":"#8a8a8a","opacity":1}},
{"data":{"values":[{"m":204.8,"L":24.5,"t":"129.76563"},{"m":204.8,"L":18,"t":"129.56250"},{"m":204.8,"L":13,"t":"129.40625"},{"m":204.8,"L":10.3,"t":"129.32188"},{"m":204.8,"L":9.925,"t":"129.31016"},{"m":204.8,"L":8,"t":"129.25000"},{"m":204.8,"L":4.46,"t":"129.13937"},{"m":204.8,"L":-0.13,"t":"128.99731"},{"m":204.8,"L":-0.55,"t":"128.98281"},{"m":204.8,"L":-1,"t":"128'31"},{"m":204.8,"L":-3.5,"t":"128.89063"},{"m":204.8,"L":-6,"t":"128.81250"}]},"mark":{"type":"text","align":"left","baseline":"middle","fontSize":5.7,"color":"#222222"},"encoding":{"text":{"field":"t"}}}
]},
{"encoding":{"y":{"field":"v","type":"quantitative","scale":{"domain":[-0.1066,0.0927],"range":[541.55,469.5],"nice":false,"zero":false},"axis":{"orient":"right","offset":-37,"values":[0.05,-0.05,-0.1],"title":null,"domain":false,"grid":false,"tickSize":4,"tickColor":"#666666","labelFontSize":5.9,"labelColor":"#444444","labelPadding":1,"format":".2~f","labelFont":"Liberation Sans"}}},
"layer":[
{"data":{"name":"grid"},"mark":{"type":"rule","color":"#e6e6e6","strokeWidth":1},"encoding":{"y":{"datum":0.0927},"y2":{"datum":-0.1066}}},
{"data":{"values":[{"m":-1.667,"m2":203.54,"v":0.05},{"m":-1.667,"m2":203.54,"v":-0.05},{"m":-1.667,"m2":203.54,"v":-0.1}]},"mark":{"type":"rule","color":"#e6e6e6","strokeWidth":1},"encoding":{"x2":{"field":"m2"}}},
{"data":{"values":[{"m":-1.667,"m2":203.54,"v":0}]},"mark":{"type":"rule","color":"#a0a0a0","strokeWidth":0.8},"encoding":{"x2":{"field":"m2"}}},
{"data":{"name":"bars"},"mark":{"type":"rule","color":"#1c1c60","strokeWidth":1.2},"encoding":{"y2":{"datum":0}}},
{"data":{"name":"macd"},"mark":{"type":"line","strokeWidth":0.9,"interpolate":"monotone"},"encoding":{"color":{"field":"s","type":"nominal","scale":{"domain":["SMA200","SMA100","SMA50","EMA13","SMA20","MACD","Signal"],"range":["#e02020","#1414c8","#e020e0","#178017","#101010","#4f9f62","#bf62d0"]},"legend":null},"order":{"field":"m","type":"quantitative"}}},
{"data":{"values":[{"m":-1.45,"v":0.0595,"t":"MACD(ZB 12-13 (1 Min),19,38,9)"},{"m":-1.45,"v":-0.0987,"t":"© 2013 NinjaTrader, LLC"}]},"mark":{"type":"text","align":"left","baseline":"middle","fontSize":5.9,"color":"#444444"},"encoding":{"text":{"field":"t"}}},
{"data":{"values":[{"m":-1.667,"m2":203.54,"v":-0.1066},{"m":-1.667,"m2":211.5,"v":-0.1826}]},"mark":{"type":"rule","color":"#808080","strokeWidth":1.2},"encoding":{"x2":{"field":"m2"}}},
{"data":{"values":[{"m":-1.667,"v":0.0927,"v2":-0.1826},{"m":203.54,"v":0.0927,"v2":-0.1066}]},"mark":{"type":"rule","color":"#808080","strokeWidth":1.2},"encoding":{"y2":{"field":"v2"}}},
{"data":{"values":[{"m":204.27,"m2":209.2,"v":0.0068},{"m":204.27,"m2":209.2,"v":-0.0687}]},"mark":{"type":"bar","orient":"horizontal","size":7,"fill":"#9e9e9e","stroke":"#666666","strokeWidth":0.5},"encoding":{"x2":{"field":"m2"}}},
{"data":{"values":[{"m":204,"v":0.0068},{"m":204,"v":-0.0687}]},"mark":{"type":"point","shape":"triangle-left","size":22,"filled":true,"color":"#8a8a8a","opacity":1}},
{"data":{"values":[{"m":204.8,"v":0.0068,"t":"0.00677"},{"m":204.8,"v":-0.0687,"t":"-0.0727"}]},"mark":{"type":"text","align":"left","baseline":"middle","fontSize":5.9,"color":"#222222"},"encoding":{"text":{"field":"t"}}}
]}
]}
